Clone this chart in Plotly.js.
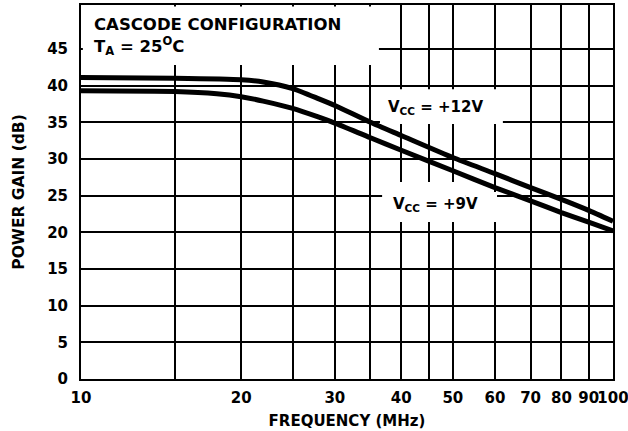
<!DOCTYPE html>
<html>
<head>
<meta charset="utf-8">
<script src="https://cdn.plot.ly/plotly-3.0.1.min.js"></script>
<style>html,body{margin:0;padding:0;background:#fff;}#chart{width:628px;height:431px;}</style>
</head>
<body>
<div id="chart"></div>
<script>
// Frequency (MHz) and power gain (dB)
const freq12 = [10, 15, 20, 22, 25, 28, 30, 35, 40, 50, 60, 70, 80, 90, 100];
const gain12 = [41.1, 41.0, 40.8, 40.5, 39.6, 38.2, 37.3, 35.0, 33.2, 30.2, 28.0, 26.1, 24.5, 23.0, 21.5];
const freq9 = [10, 15, 18, 20, 22, 25, 28, 30, 35, 40, 50, 60, 70, 80, 90, 100];
const gain9 = [39.3, 39.2, 38.9, 38.5, 37.9, 36.9, 35.7, 34.9, 32.9, 31.2, 28.4, 26.1, 24.3, 22.7, 21.4, 20.2];
const xTickVals = [10, 15, 20, 25, 30, 35, 40, 45, 50, 60, 70, 80, 90, 100];
const xTickText = ['10', '', '20', '', '30', '', '40', '', '50', '60', '70', '80', '90', '100'];
const yTickVals = [0, 5, 10, 15, 20, 25, 30, 35, 40, 45];
const labels = {
  title1: 'CASCODE CONFIGURATION',
  title2: 'T<sub>A</sub> = 25<sup>O</sup>C',
  v12: 'V<sub>CC</sub> = +12V',
  v9: 'V<sub>CC</sub> = +9V',
  xTitle: 'FREQUENCY (MHz)',
  yTitle: 'POWER GAIN (dB)'
};

const FONT = 'DejaVu Sans, sans-serif';
const lineStyle = {color: '#000', width: 5, shape: 'spline', smoothing: 0.6};

const traces = [
  {x: freq12, y: gain12, mode: 'lines', line: lineStyle, hoverinfo: 'skip'},
  {x: freq9, y: gain9, mode: 'lines', line: lineStyle, hoverinfo: 'skip'}
];

// white label backgrounds that hide the grid behind the texts
const whiteBox = (x0, x1, y0, y1) => ({
  type: 'rect', xref: 'paper', yref: 'paper', x0, x1, y0, y1,
  fillcolor: '#fff', line: {width: 0}, layer: 'above'
});

const layout = {
  width: 628, height: 431,
  margin: {l: 81, r: 15, t: 5, b: 52},
  paper_bgcolor: '#fff', plot_bgcolor: '#fff',
  showlegend: false,
  font: {family: FONT, color: '#000', size: 15},
  xaxis: {
    type: 'log', range: [1, 2],
    tickmode: 'array', tickvals: xTickVals, ticktext: xTickText,
    showgrid: true, gridcolor: '#000', gridwidth: 2,
    showline: true, linecolor: '#000', linewidth: 2, mirror: true,
    ticks: '', ticklabelstandoff: 4, ticklabeloverflow: 'allow', tickangle: 0,
    tickfont: {family: FONT, size: 15, weight: 'bold', color: '#000'},
    title: {text: labels.xTitle, font: {family: FONT, size: 15, weight: 'bold', color: '#000'}, standoff: 9},
    zeroline: false, fixedrange: true
  },
  yaxis: {
    range: [0, 51],
    tickmode: 'array', tickvals: yTickVals,
    showgrid: true, gridcolor: '#000', gridwidth: 2,
    showline: true, linecolor: '#000', linewidth: 2, mirror: true,
    ticks: '', ticklabelstandoff: 8,
    tickfont: {family: FONT, size: 15, weight: 'bold', color: '#000'},
    title: {text: labels.yTitle, font: {family: FONT, size: 15.5, weight: 'bold', color: '#000'}, standoff: 19},
    zeroline: false, fixedrange: true
  },
  shapes: [
    whiteBox(0.0035, 0.560, 0.8396, 0.996),
    whiteBox(0.562, 0.793, 0.682, 0.775),
    whiteBox(0.566, 0.722, 0.420, 0.527),
    whiteBox(0.722, 0.782, 0.420, 0.500)
  ],
  annotations: [
    {text: labels.title1, xref: 'paper', yref: 'paper', x: 0.0207, y: 0.949, xanchor: 'left', yanchor: 'middle', showarrow: false,
     font: {family: FONT, size: 16.5, weight: 'bold', color: '#000'}},
    {text: labels.title2, xref: 'paper', yref: 'paper', x: 0.0207, y: 0.890, xanchor: 'left', yanchor: 'middle', showarrow: false,
     font: {family: FONT, size: 16.5, weight: 'bold', color: '#000'}},
    {text: labels.v12, xref: 'paper', yref: 'paper', x: 0.667, y: 0.727, xanchor: 'center', yanchor: 'middle', showarrow: false,
     font: {family: FONT, size: 15, weight: 'bold', color: '#000'}},
    {text: labels.v9, xref: 'paper', yref: 'paper', x: 0.667, y: 0.466, xanchor: 'center', yanchor: 'middle', showarrow: false,
     font: {family: FONT, size: 15, weight: 'bold', color: '#000'}}
  ]
};

Plotly.newPlot('chart', traces, layout, {staticPlot: true, displayModeBar: false});
</script>
</body>
</html>
